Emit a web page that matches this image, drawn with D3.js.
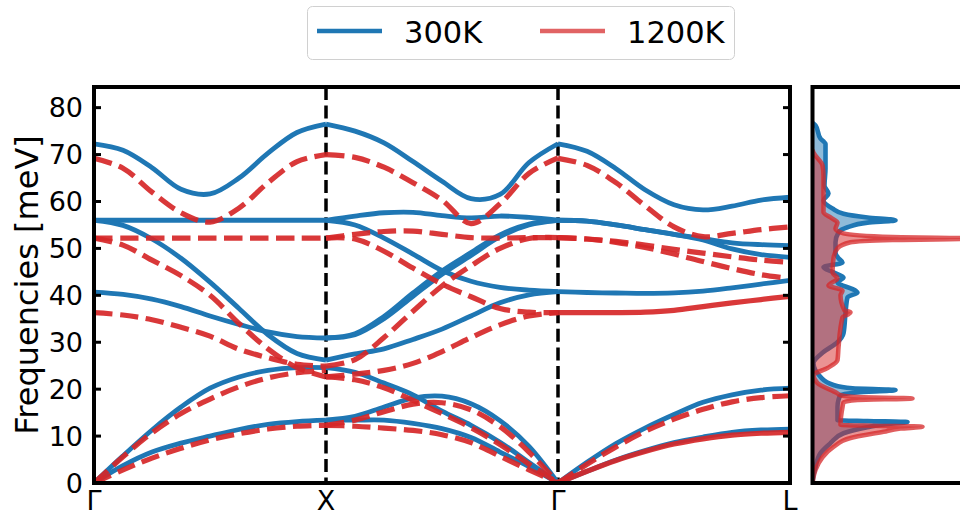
<!DOCTYPE html>
<html><head><meta charset="utf-8">
<script src="https://cdn.jsdelivr.net/npm/d3@7"></script>
<style>body{margin:0;background:#fff}svg{display:block}</style>
</head><body><svg id="c" width="960" height="516"></svg>
<script>
// ---------------- data ----------------
const kLabels = ["Γ", "X", "Γ", "L"];
const kTicks = [0, 1, 2, 3];
const tGrid = [0, 0.125, 0.25, 0.375, 0.5, 0.625, 0.75, 0.875, 1];
const yTicks = [0, 10, 20, 30, 40, 50, 60, 70, 80];
const seriesNames = ["300K", "1200K"];

// 300K branches, frequencies (meV) sampled on tGrid in each segment
const b300_GX = [
  [72.3, 70.9, 67.2, 62.6, 61.6, 65.0, 70.3, 74.7, 76.5],
  [56.0, 56.0, 56.0, 56.0, 56.0, 56.0, 56.0, 56.0, 56.0],
  [56.0, 54.9, 52.0, 47.9, 42.8, 37.2, 31.6, 27.6, 26.2],
  [40.7, 40.2, 39.2, 37.6, 35.6, 33.8, 32.2, 31.2, 30.9],
  [0.0, 5.8, 11.3, 16.2, 20.2, 22.6, 24.0, 24.6, 24.6],
  [0.0, 3.7, 6.6, 8.5, 10.0, 11.4, 12.5, 13.1, 13.4]
];
const b300_XG = [
  [76.5, 75.0, 72.5, 68.5, 64.3, 60.6, 61.5, 68.3, 72.3],
  [56.0, 56.9, 57.6, 57.7, 57.0, 56.5, 56.9, 56.6, 56.0],
  [56.0, 55.0, 52.2, 48.8, 45.3, 43.0, 41.7, 41.1, 40.8],
  [30.9, 31.6, 35.0, 39.8, 44.5, 48.5, 52.5, 55.0, 56.0],
  [30.9, 31.8, 35.5, 40.5, 45.2, 49.1, 52.9, 55.2, 56.0],
  [26.2, 27.5, 28.6, 30.6, 32.8, 35.6, 38.4, 40.1, 40.8],
  [24.6, 23.6, 21.3, 18.8, 15.3, 12.3, 8.7, 4.4, 0.0],
  [13.4, 14.2, 16.2, 18.1, 18.5, 16.9, 13.3, 7.8, 0.0],
  [13.4, 13.4, 13.4, 12.7, 11.6, 9.7, 6.6, 3.5, 0.0]
];
const b300_GL = [
  [72.3, 70.7, 67.0, 62.5, 59.3, 58.2, 59.0, 60.3, 60.9],
  [56.0, 55.8, 55.0, 54.0, 53.0, 52.1, 51.2, 50.8, 50.6],
  [56.0, 55.8, 55.0, 54.0, 53.0, 51.8, 49.9, 48.7, 48.1],
  [40.8, 40.6, 40.5, 40.4, 40.5, 40.9, 41.6, 42.4, 43.2],
  [0.0, 4.4, 8.4, 11.7, 14.6, 17.2, 18.8, 19.8, 20.2],
  [0.0, 2.5, 4.9, 6.9, 8.6, 9.8, 10.8, 11.3, 11.5]
];

// 1200K branches
const b1200_GX = [
  [69.2, 67.1, 62.0, 57.6, 55.6, 58.6, 64.0, 68.5, 70.0],
  [52.2, 52.2, 52.2, 52.2, 52.2, 52.2, 52.2, 52.2, 52.2],
  [52.2, 50.7, 47.5, 44.2, 40.0, 34.0, 28.6, 24.6, 22.6],
  [36.3, 35.8, 34.8, 33.2, 31.3, 28.5, 26.7, 25.3, 24.9],
  [0.0, 5.6, 10.7, 14.8, 17.9, 20.5, 22.4, 23.5, 24.0],
  [0.0, 2.8, 5.3, 7.4, 9.2, 10.5, 11.5, 12.1, 12.3]
];
const b1200_XG = [
  [70.0, 69.4, 67.3, 64.0, 60.3, 55.3, 59.5, 66.0, 69.3],
  [52.2, 53.0, 53.6, 53.7, 53.0, 52.3, 52.2, 52.3, 52.3],
  [52.2, 52.0, 49.4, 45.8, 42.4, 39.7, 37.2, 36.4, 36.3],
  [24.9, 26.3, 31.0, 36.6, 42.0, 46.3, 50.0, 52.1, 52.3],
  [22.6, 23.2, 24.0, 25.5, 28.0, 31.0, 33.7, 35.6, 36.3],
  [22.6, 22.0, 20.3, 17.6, 14.8, 11.8, 8.2, 4.0, 0.0],
  [12.3, 13.4, 15.2, 16.8, 17.1, 15.6, 12.0, 6.6, 0.0],
  [12.3, 12.1, 11.7, 11.2, 10.3, 8.6, 5.7, 2.8, 0.0]
];
const b1200_GL = [
  [69.2, 67.7, 64.0, 59.1, 54.6, 52.5, 53.2, 54.0, 54.6],
  [52.3, 52.0, 51.5, 50.7, 49.8, 49.0, 48.2, 47.5, 47.0],
  [52.3, 52.0, 51.3, 50.2, 48.8, 47.2, 45.7, 44.4, 43.6],
  [36.3, 36.3, 36.3, 36.4, 36.8, 37.6, 38.4, 39.1, 39.8],
  [0.0, 4.0, 7.7, 11.0, 13.6, 15.7, 17.3, 18.2, 18.6],
  [0.0, 2.5, 4.8, 6.7, 8.3, 9.4, 10.2, 10.6, 10.8]
];

// phonon DOS (arbitrary units) vs frequency (meV)
const dos300_f = [0, 1, 3.4, 6.4, 8.5, 10.6, 11.9, 12.6, 13.0, 13.2, 13.4, 16.2, 17.7, 18.7, 19.3, 19.8, 20.2, 20.9, 22.6, 25.5, 27.9, 30, 31.9, 36.2, 39.6, 40.6, 41, 42.8, 43.8, 44.9, 46, 47, 47.9, 49.1, 51.3, 53.4, 54.5, 55.5, 56, 56.6, 57.4, 58.5, 60.2, 61.7, 63.4, 67, 72.3, 72.8, 73.4, 76.2, 76.8];
const dos300_v = [0, 0.5, 3, 8, 18, 31, 55, 75, 95, 55, 25, 25, 26, 28, 45, 83, 40, 21, 8, 1, 11, 25, 31, 33, 35, 45, 43, 25, 31, 21, 11, 30, 26, 23, 23, 26, 35, 55, 83, 55, 31, 20, 11, 16, 12, 13, 13, 11, 8, 3, 0];
const dos1200_f = [0, 2.8, 5.5, 7.7, 9.6, 10.9, 11.6, 12.0, 12.2, 12.4, 16.2, 17.2, 17.7, 18.0, 18.3, 18.7, 19.1, 21.3, 23, 24.5, 26.2, 28.9, 35.3, 36.0, 36.4, 36.8, 40, 41, 42.1, 43.6, 44.9, 47.9, 50, 51.3, 51.8, 52.1, 52.4, 53.2, 54.2, 55.5, 56.6, 57.7, 65.5, 67.7, 70.4, 71];
const dos1200_v = [0, 3, 10, 21, 38, 71, 88, 110, 60, 28, 30, 31, 45, 100, 45, 28, 25, 5, 1, 15, 25, 26, 30, 36, 38, 32, 28, 30, 16, 25, 20, 21, 25, 38, 80, 170, 80, 31, 23, 25, 18, 11, 11, 10, 1, 0];

// ---------------- drawing ----------------
const C300 = "#1f77b4", C1200 = "#d62728";
const FONT = "DejaVu Sans, sans-serif";
const svg = d3.select("#c");

const L = 94, R = 790, T = 87, B = 483;
const x = d3.scaleLinear().domain([0, 3]).range([L, R]);
const y = d3.scaleLinear().domain([0, 84.4]).range([B, T]);
const DL = 812.5;
const dx = d3.scaleLinear().domain([0, 150]).range([DL, DL + 150]);

const defs = svg.append("defs");
defs.append("clipPath").attr("id", "clipL").append("rect")
  .attr("x", L).attr("y", T).attr("width", R - L).attr("height", B - T);
defs.append("clipPath").attr("id", "clipR").append("rect")
  .attr("x", DL).attr("y", T).attr("width", 200).attr("height", B - T);

// ---- band panel ----
const gL = svg.append("g").attr("clip-path", "url(#clipL)");
gL.selectAll("line.hs").data(kTicks.slice(1, 3)).join("line")
  .attr("x1", d => x(d)).attr("x2", d => x(d))
  .attr("y1", T).attr("y2", B)
  .attr("stroke", "#000").attr("stroke-width", 3.5)
  .attr("stroke-dasharray", "13,5.6");

const bandLine = d3.line().curve(d3.curveCatmullRom.alpha(0.5));
function drawBands(sets, color, opts) {
  sets.forEach((branches, s) => {
    branches.forEach((vals, bi) => {
      const pts = tGrid.map((t, i) => [x(s + t), y(vals[i])]);
      const p = gL.append("path").attr("d", bandLine(pts))
        .attr("fill", "none").attr("stroke", color)
        .attr("stroke-width", opts.width).attr("stroke-linecap", "butt")
        .attr("stroke-opacity", opts.opacity);
      const solid = opts.solid && opts.solid[s] && opts.solid[s].includes(bi);
      if (opts.dash && !solid) p.attr("stroke-dasharray", opts.dash);
    });
  });
}
drawBands([b300_GX, b300_XG, b300_GL], C300, { width: 4.8, opacity: 1 });
drawBands([b1200_GX, b1200_XG, b1200_GL], C1200,
  { width: 5.2, opacity: 0.92, dash: "18.5,7.5", solid: { 2: [3, 5] } });

// frame + ticks
svg.append("rect").attr("x", L).attr("y", T).attr("width", R - L).attr("height", B - T)
  .attr("fill", "none").attr("stroke", "#000").attr("stroke-width", 4);
svg.append("g").selectAll("line").data(yTicks).join("line")
  .attr("x1", L).attr("x2", L + 7).attr("y1", d => y(d)).attr("y2", d => y(d))
  .attr("stroke", "#000").attr("stroke-width", 3);
svg.append("g").selectAll("line").data(yTicks).join("line")
  .attr("x1", R).attr("x2", R - 7).attr("y1", d => y(d)).attr("y2", d => y(d))
  .attr("stroke", "#000").attr("stroke-width", 3);

const TFS = 27;
svg.append("g").selectAll("text").data(yTicks).join("text")
  .attr("x", 83).attr("y", d => y(d) + TFS * 0.3645)
  .attr("text-anchor", "end").attr("font-family", FONT).attr("font-size", TFS)
  .attr("fill", "#000").text(d => d);
svg.append("g").selectAll("text").data(kTicks).join("text")
  .attr("x", d => x(d)).attr("y", 510)
  .attr("text-anchor", "middle").attr("font-family", FONT).attr("font-size", TFS)
  .attr("fill", "#000").text((d, i) => kLabels[i]);
svg.append("text").attr("transform", "translate(38,285) rotate(-90)")
  .attr("text-anchor", "middle").attr("font-family", FONT).attr("font-size", 32)
  .attr("fill", "#000").text("Frequencies [meV]");

// ---- DOS panel ----
const gR = svg.append("g").attr("clip-path", "url(#clipR)");
const areaD = d3.area().curve(d3.curveMonotoneY)
  .y(d => y(d[0])).x0(dx(0)).x1(d => dx(d[1]));
const lineD = d3.line().curve(d3.curveMonotoneY)
  .y(d => y(d[0])).x(d => dx(d[1]));
const d300 = dos300_f.map((f, i) => [f, dos300_v[i]]);
const d1200 = dos1200_f.map((f, i) => [f, dos1200_v[i]]);
gR.append("path").attr("d", areaD(d300)).attr("fill", C300).attr("fill-opacity", 0.5);
gR.append("path").attr("d", lineD(d300)).attr("fill", "none").attr("stroke", C300)
  .attr("stroke-width", 4.6).attr("stroke-linejoin", "round");
gR.append("path").attr("d", areaD(d1200)).attr("fill", C1200).attr("fill-opacity", 0.5);
gR.append("path").attr("d", lineD(d1200)).attr("fill", "none").attr("stroke", C1200)
  .attr("stroke-width", 4.6).attr("stroke-opacity", 0.75).attr("stroke-linejoin", "round");
svg.append("rect").attr("x", DL).attr("y", T).attr("width", 200).attr("height", B - T)
  .attr("fill", "none").attr("stroke", "#000").attr("stroke-width", 4);

// ---- legend ----
const lg = svg.append("g");
lg.append("rect").attr("x", 307.5).attr("y", 6.5).attr("width", 427).attr("height", 53)
  .attr("rx", 5).attr("fill", "#fff").attr("stroke", "#d0d0d0").attr("stroke-width", 1);
const legItems = [
  { name: seriesNames[0], color: C300, op: 1, x0: 317, tx: 404 },
  { name: seriesNames[1], color: C1200, op: 0.72, x0: 540, tx: 627 }
];
legItems.forEach(it => {
  lg.append("line").attr("x1", it.x0).attr("x2", it.x0 + 65).attr("y1", 31).attr("y2", 31)
    .attr("stroke", it.color).attr("stroke-opacity", it.op).attr("stroke-width", 4.5);
  lg.append("text").attr("x", it.tx).attr("y", 43).attr("font-family", FONT)
    .attr("font-size", 30.5).attr("fill", "#000").text(it.name);
});
</script></body></html>
